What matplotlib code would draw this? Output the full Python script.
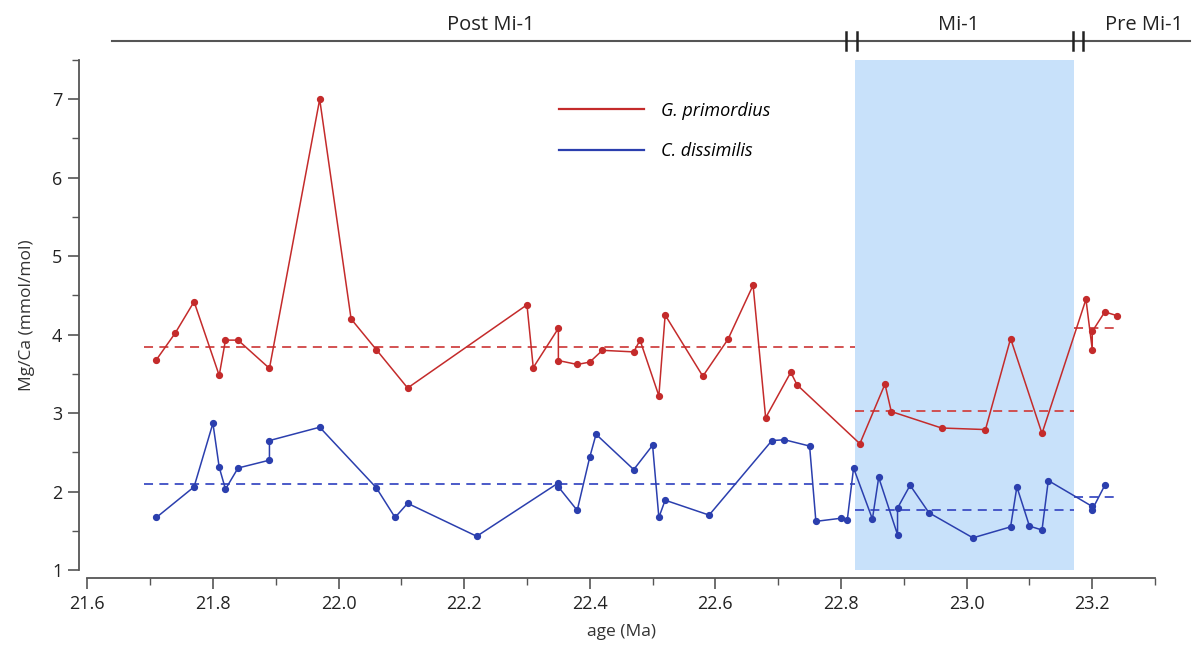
import matplotlib
matplotlib.use("Agg")
import matplotlib.pyplot as plt
from matplotlib.lines import Line2D
from matplotlib.ticker import MultipleLocator

plt.rcParams["font.family"] = ["Open Sans", "DejaVu Sans"]

# ---- Mg/Ca data ----
prim_age = [21.71, 21.74, 21.77, 21.81, 21.82, 21.84, 21.89, 21.97, 22.02, 22.06,
            22.11, 22.30, 22.31, 22.35, 22.35, 22.38, 22.40, 22.42, 22.47, 22.48,
            22.51, 22.52, 22.58, 22.62, 22.66, 22.68, 22.72, 22.73, 22.83, 22.87,
            22.88, 22.96, 23.03, 23.07, 23.12, 23.19, 23.20, 23.20, 23.22, 23.24]
prim_mgca = [3.68, 4.02, 4.42, 3.48, 3.93, 3.93, 3.57, 7.00, 4.20, 3.81,
             3.32, 4.38, 3.58, 4.08, 3.67, 3.62, 3.65, 3.80, 3.78, 3.93,
             3.22, 4.25, 3.47, 3.94, 4.63, 2.94, 3.52, 3.36, 2.61, 3.37,
             3.02, 2.81, 2.79, 3.95, 2.74, 4.45, 3.81, 4.04, 4.29, 4.24]

diss_age = [21.71, 21.77, 21.80, 21.81, 21.82, 21.84, 21.89, 21.89, 21.97, 22.06,
            22.09, 22.11, 22.22, 22.35, 22.35, 22.38, 22.40, 22.41, 22.47, 22.50,
            22.51, 22.52, 22.59, 22.69, 22.71, 22.75, 22.76, 22.80, 22.81, 22.82,
            22.85, 22.86, 22.89, 22.89, 22.91, 22.94, 23.01, 23.07, 23.08, 23.10,
            23.12, 23.13, 23.20, 23.20, 23.22]
diss_mgca = [1.67, 2.06, 2.87, 2.31, 2.03, 2.30, 2.40, 2.65, 2.82, 2.05,
             1.67, 1.85, 1.43, 2.11, 2.06, 1.76, 2.44, 2.73, 2.28, 2.59,
             1.67, 1.89, 1.70, 2.65, 2.66, 2.58, 1.62, 1.66, 1.64, 2.30,
             1.65, 2.18, 1.45, 1.79, 2.08, 1.73, 1.41, 1.55, 2.06, 1.56,
             1.51, 2.14, 1.81, 1.77, 2.08]

# interval edges (Ma) and interval means: post, Mi-1, pre
interval_edges = [21.69, 22.822, 23.171, 23.24]
prim_means = [3.84, 3.03, 4.08]
diss_means = [2.09, 1.76, 1.93]

# top bar
bar_labels = ["Post Mi-1", "Mi-1", "Pre Mi-1"]
bar_label_x = [22.243, 22.988, 23.283]
bar_extent = [21.64, 23.356]
bar_breaks = [22.808, 22.825, 23.170, 23.186]

RED = "#c42b2b"
BLUE = "#2b3fae"
GREY = "#555555"

fig = plt.figure(figsize=(12, 6.51), dpi=100)
ax = fig.add_axes([0.07275, 0.1244, 0.8898, 0.7834])

ax.axvspan(interval_edges[1], interval_edges[2], color="#c8e1fa", lw=0, zorder=0)

ax.plot(prim_age, prim_mgca, "-o", color=RED, lw=1.1, ms=4.2, zorder=3)
ax.plot(diss_age, diss_mgca, "-o", color=BLUE, lw=1.1, ms=4.2, zorder=3)

for i in range(3):
    seg = [interval_edges[i], interval_edges[i + 1]]
    ax.plot(seg, [prim_means[i]] * 2, color="#d04444", lw=1.3, ls=(0, (5, 3.5)), zorder=2)
    ax.plot(seg, [diss_means[i]] * 2, color="#3d4dc4", lw=1.3, ls=(0, (5, 3.5)), zorder=2)

ax.set_xlim(21.6, 23.3)
ax.set_ylim(1, 7.5)
ax.xaxis.set_major_locator(MultipleLocator(0.2))
ax.xaxis.set_minor_locator(MultipleLocator(0.1))
ax.yaxis.set_major_locator(MultipleLocator(1))
ax.yaxis.set_minor_locator(MultipleLocator(0.5))
ax.set_xticklabels([f"{v:.1f}" for v in ax.get_xticks()])

for s in ["top", "right"]:
    ax.spines[s].set_visible(False)
for s in ["left", "bottom"]:
    ax.spines[s].set_position(("outward", 6))
    ax.spines[s].set_color(GREY)
    ax.spines[s].set_linewidth(1.3)
ax.tick_params(which="major", length=8, width=1.2, color=GREY, labelsize=13,
               labelcolor="#222222", pad=4)
ax.tick_params(which="minor", length=5, width=1.0, color=GREY)

ax.set_xlabel("age (Ma)", fontsize=12.5, color="#333333")
ax.set_ylabel("Mg/Ca (mmol/mol)", fontsize=12.5, color="#333333")
ax.xaxis.set_label_coords(0.5, -0.105)
ax.yaxis.set_label_coords(-0.049, 0.5)

handles = [Line2D([], [], color=RED, lw=1.6), Line2D([], [], color=BLUE, lw=1.6)]
ax.legend(handles, ["G. primordius", "C. dissimilis"], frameon=False,
          prop={"style": "italic", "size": 13}, handlelength=4.7, handletextpad=0.9,
          labelspacing=1.25, loc="upper left", bbox_to_anchor=(0.427, 0.95))

# top interval bar
tr = ax.get_xaxis_transform()
ax.plot(bar_extent, [1.037, 1.037], color=GREY, lw=1.5, transform=tr, clip_on=False)
for b in bar_breaks:
    ax.plot([b, b], [1.02, 1.054], color="#222222", lw=1.8, transform=tr, clip_on=False)
for lab, x in zip(bar_labels, bar_label_x):
    ax.text(x, 1.068, lab, transform=tr, ha="center", va="center", fontsize=14.5,
            color="#222222")

fig.savefig("out.png", dpi=100)
